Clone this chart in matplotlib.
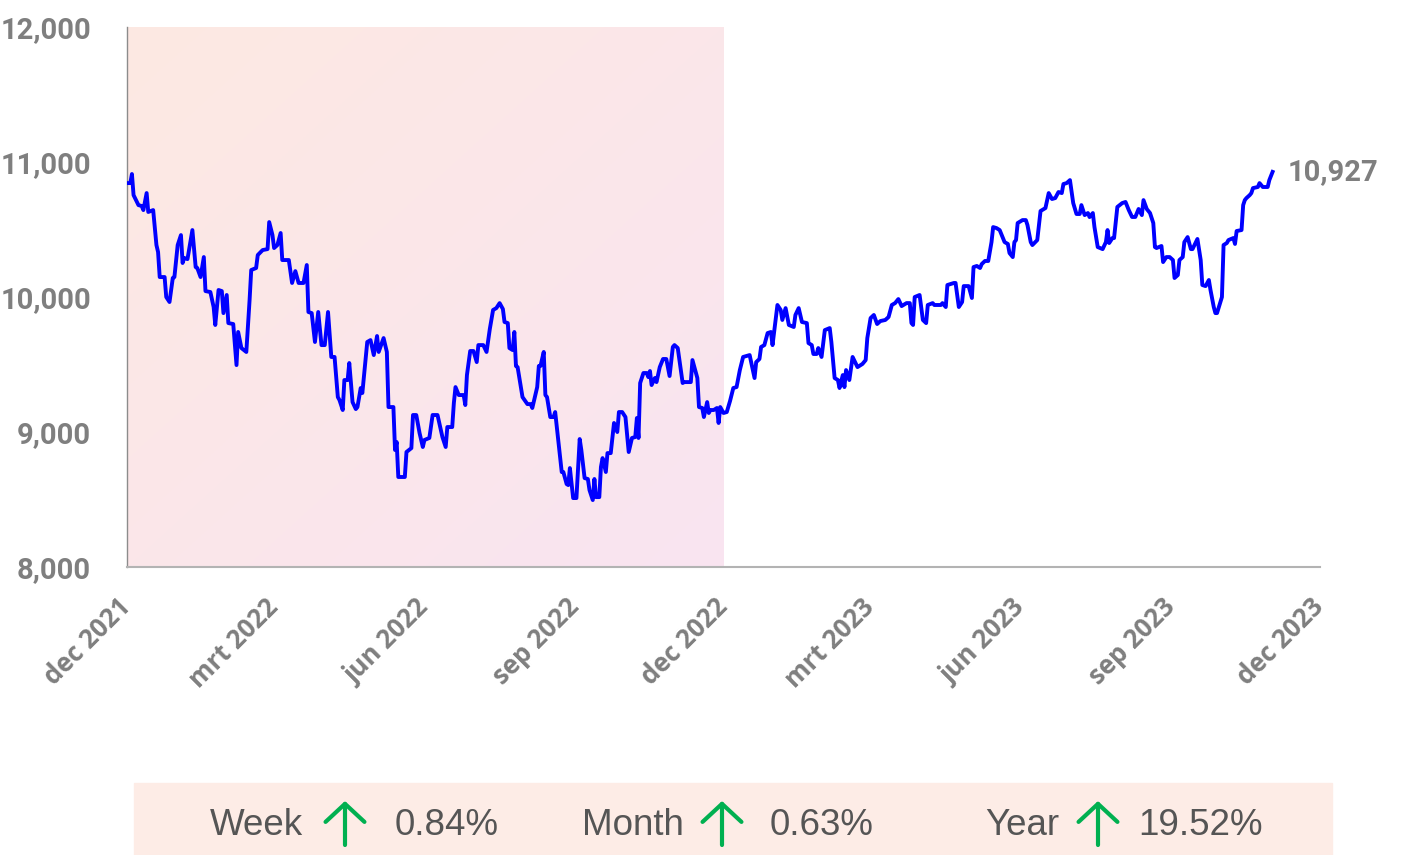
import numpy as np
import pandas as pd
import matplotlib
matplotlib.use('Agg')
import matplotlib.pyplot as plt
import matplotlib.dates as mdates
from matplotlib.patches import Rectangle, FancyArrowPatch

# koersdata: dagen sinds 1 dec 2021 en indexwaarde
start = pd.Timestamp('2021-12-01')
days = [0, 2, 3, 4, 7, 9, 10, 12, 13, 16, 18, 19, 20, 23, 24, 26, 28, 29, 31, 33,
        34, 35, 37, 40, 42, 43, 45, 47, 48, 51, 53, 54, 56, 58, 59, 61, 62, 65, 67, 68,
        70, 73, 75, 76, 79, 80, 83, 86, 87, 89, 90, 92, 94, 95, 99, 101, 103, 105, 108, 110,
        111, 113, 115, 117, 119, 121, 123, 125, 127, 129, 130, 132, 133, 135, 136, 138, 140, 141, 143, 144,
        147, 149, 151, 153, 154, 157, 159, 160, 163, 164, 165, 166, 170, 171, 174, 175, 177, 179, 181, 182,
        185, 187, 190, 193, 195, 196, 199, 200, 201, 203, 206, 207, 208, 210, 212, 214, 215, 218, 220, 222,
        224, 226, 228, 230, 231, 233, 234, 236, 237, 238, 239, 242, 245, 247, 248, 251, 252, 253, 255, 256,
        257, 259, 261, 262, 263, 266, 267, 269, 270, 271, 273, 275, 277, 278, 280, 282, 283, 285, 286, 287,
        289, 290, 291, 293, 294, 296, 298, 300, 301, 303, 305, 307, 309, 311, 312, 313, 314, 316, 318, 319,
        320, 321, 323, 324, 326, 328, 330, 332, 334, 335, 337, 340, 341, 345, 346, 349, 350, 352, 353, 355,
        356, 357, 359, 361, 362, 363, 365, 367, 369, 371, 373, 375, 377, 381, 384, 385, 387, 388, 390, 392,
        394, 395, 398, 400, 401, 403, 405, 408, 409, 411, 413, 416, 417, 419, 420, 422, 423, 425, 427, 430,
        431, 433, 435, 436, 438, 439, 440, 442, 444, 447, 450, 452, 453, 455, 457, 459, 461, 464, 466, 468,
        470, 472, 474, 477, 479, 480, 481, 482, 485, 487, 489, 490, 493, 494, 498, 499, 501, 502, 506, 507,
        509, 511, 512, 515, 517, 518, 520, 522, 523, 525, 527, 529, 530, 532, 534, 537, 539, 540, 542, 543,
        544, 545, 548, 550, 551, 553, 554, 557, 559, 561, 562, 564, 566, 568, 570, 572, 573, 575, 577, 578,
        579, 581, 583, 584, 586, 588, 589, 591, 592, 594, 597, 599, 600, 601, 603, 604, 606, 609, 611, 613,
        615, 617, 619, 621, 622, 624, 626, 628, 629, 630, 633, 634, 636, 638, 640, 641, 643, 644, 646, 647,
        649, 651, 652, 655, 657, 658, 660, 662, 663, 665, 666, 667, 670, 671, 673, 674, 677, 678, 679, 682,
        683, 684, 685, 687, 688, 689, 692, 693, 695, 698, 699, 701]
values = [10844, 10844, 10911, 10755, 10681, 10674, 10644, 10770, 10630, 10644, 10385, 10333, 10148, 10148, 10000, 9963, 10141, 10148, 10385, 10459,
          10252, 10289, 10281, 10496, 10222, 10215, 10148, 10296, 10044, 10037, 9926, 9793, 10052, 10044, 9881, 10015, 9807, 9800, 9496, 9741,
          9622, 9593, 9978, 10200, 10215, 10311, 10348, 10355, 10555, 10459, 10363, 10385, 10474, 10274, 10274, 10104, 10192, 10104, 10104, 10237,
          9889, 9881, 9667, 9889, 9644, 9644, 9889, 9556, 9556, 9259, 9237, 9163, 9385, 9385, 9511, 9222, 9170, 9185, 9326, 9289,
          9667, 9681, 9570, 9711, 9593, 9696, 9593, 9185, 9185, 8867, 8926, 8667, 8667, 8852, 8881, 9126, 9126, 8993, 8889, 8941,
          8956, 9126, 9126, 8963, 8889, 9037, 9037, 9215, 9333, 9274, 9274, 9200, 9422, 9600, 9600, 9518, 9644, 9644, 9593, 9763,
          9904, 9918, 9955, 9911, 9815, 9807, 9622, 9607, 9741, 9489, 9481, 9259, 9207, 9207, 9178, 9333, 9489, 9489, 9593, 9274,
          9259, 9111, 9111, 9148, 9037, 8704, 8704, 8615, 8607, 8733, 8511, 8511, 8948, 8867, 8659, 8652, 8570, 8496, 8652, 8518,
          8518, 8741, 8807, 8704, 8844, 8844, 9067, 9000, 9148, 9148, 9111, 8852, 8956, 8963, 9104, 8956, 9363, 9437, 9437, 9407,
          9452, 9348, 9400, 9370, 9481, 9541, 9541, 9415, 9630, 9644, 9622, 9363, 9370, 9370, 9533, 9400, 9185, 9178, 9111, 9222,
          9141, 9163, 9163, 9178, 9067, 9185, 9141, 9148, 9230, 9326, 9333, 9459, 9556, 9570, 9400, 9518, 9541, 9630, 9644, 9733,
          9741, 9644, 9941, 9904, 9830, 9918, 9793, 9778, 9867, 9918, 9815, 9807, 9659, 9644, 9578, 9578, 9622, 9556, 9755, 9770,
          9667, 9400, 9385, 9326, 9422, 9333, 9459, 9385, 9556, 9481, 9504, 9533, 9696, 9844, 9867, 9800, 9822, 9830, 9852, 9941,
          9955, 9985, 9933, 9955, 9955, 9807, 9793, 10000, 10015, 9830, 9807, 9941, 9955, 9941, 9941, 9955, 9926, 10089, 10104, 10104,
          9926, 9963, 10081, 10081, 9993, 10222, 10230, 10215, 10244, 10267, 10267, 10407, 10518, 10511, 10496, 10407, 10393, 10326, 10296, 10407,
          10422, 10548, 10570, 10570, 10533, 10407, 10385, 10422, 10637, 10652, 10659, 10770, 10726, 10733, 10778, 10770, 10837, 10844, 10866, 10778,
          10696, 10615, 10615, 10681, 10607, 10622, 10592, 10622, 10518, 10370, 10355, 10407, 10496, 10400, 10437, 10437, 10667, 10696, 10704, 10644,
          10593, 10593, 10652, 10607, 10718, 10652, 10622, 10548, 10370, 10363, 10378, 10259, 10296, 10296, 10274, 10141, 10163, 10274, 10296, 10407,
          10444, 10355, 10355, 10430, 10274, 10089, 10081, 10126, 10052, 9926, 9881, 9881, 10000, 10385, 10400, 10422, 10437, 10393, 10489, 10496,
          10681, 10718, 10733, 10755, 10770, 10807, 10815, 10844, 10815, 10815, 10866, 10927]

dates = start + pd.to_timedelta(days, unit='D')

tick_dates = pd.to_datetime(['2021-12-01', '2022-03-01', '2022-06-01', '2022-09-01', '2022-12-01',
                             '2023-03-01', '2023-06-01', '2023-09-01', '2023-12-01'])
tick_labels = ['dec 2021', 'mrt 2022', 'jun 2022', 'sep 2022', 'dec 2022',
               'mrt 2023', 'jun 2023', 'sep 2023', 'dec 2023']
y_ticks = [8000, 9000, 10000, 11000, 12000]

stat_names = ['Week', 'Month', 'Year']
stat_values = [0.84, 0.63, 19.52]

fig = plt.figure(figsize=(14.02, 8.55), dpi=100)
ax = fig.add_axes([0.0906, 0.3368, 0.8509, 0.6316])

# achtergrond van het eerste jaar met kleurverloop
x0 = mdates.date2num(tick_dates[0])
x1 = mdates.date2num(tick_dates[4])
xend = mdates.date2num(tick_dates[-1])
u = np.linspace(0, 1, 200)[None, :]
v = np.linspace(0, 1, 200)[:, None]
t = ((u + v) / 2)[:, :, None]
c_a = np.array([253, 233, 226]) / 255
c_b = np.array([249, 228, 241]) / 255
img = c_a * (1 - t) + c_b * t
ax.imshow(img, extent=[x0, x1, 8000, 12000], aspect='auto', zorder=0, origin='upper')

ax.plot(dates, values, color='#0000ff', lw=2.8, zorder=3)

ax.set_xlim(x0, xend)
ax.set_ylim(8000, 12000)

for s in ['top', 'right']:
    ax.spines[s].set_visible(False)
ax.spines['left'].set_color('#8c8c8c')
ax.spines['left'].set_linewidth(1)
ax.spines['bottom'].set_color('#b3b3b3')
ax.spines['bottom'].set_linewidth(1.5)
ax.tick_params(length=0)

ax.set_yticks(y_ticks)
ax.set_yticklabels([f'{y:,}' for y in y_ticks], fontfamily='Roboto', fontweight='bold',
                   fontsize=21, color='#7f7f7f')
ax.tick_params(axis='y', pad=26)

ax.set_xticks(tick_dates)
ax.set_xticklabels(tick_labels, rotation=45, ha='right', va='center', rotation_mode='anchor',
                   fontsize=18.5, color='#7f7f7f', fontfamily='Open Sans', fontweight='bold')
ax.tick_params(axis='x', pad=26)

# laatste waarde
ax.annotate(f'{values[-1]:,}', xy=(dates[-1], values[-1]), xytext=(11, 0),
            textcoords='offset points', ha='left', va='center', fontsize=21,
            fontweight='bold', fontfamily='Roboto', color='#7f7f7f')

# onderste balk met rendementen
fig.patches.append(Rectangle((134 / 1402, 0), 1198 / 1402, 72 / 855,
                             transform=fig.transFigure, color='#fdece6', zorder=0))
name_x = [210, 582, 985]
arrow_x = [345, 722, 1098]
val_x = [395, 770, 1138]
base_y = 1 - 835 / 855
for n, val, nx, axx, vx in zip(stat_names, stat_values, name_x, arrow_x, val_x):
    fig.text(nx / 1402, base_y, n, fontsize=26.5, fontfamily='Liberation Sans',
             color='#555555', va='baseline', ha='left')
    fig.text(vx / 1402, base_y, f'{val:.2f}%', fontsize=26.5, fontfamily='Liberation Sans',
             color='#555555', va='baseline', ha='left')
    arrow = FancyArrowPatch((axx / 1402, 1 - 845 / 855), (axx / 1402, 1 - 801 / 855),
                            transform=fig.transFigure,
                            arrowstyle='->, head_length=0.65, head_width=0.7',
                            color='#00b050', lw=3, mutation_scale=20,
                            shrinkA=0, shrinkB=0)
    fig.add_artist(arrow)

fig.savefig('out.png', dpi=100)
